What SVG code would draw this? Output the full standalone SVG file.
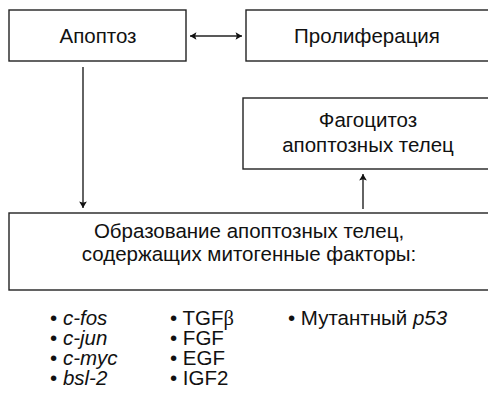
<svg xmlns="http://www.w3.org/2000/svg" width="488" height="401" viewBox="0 0 488 401">
<style>
.box{fill:#fff;stroke:#222;stroke-width:1.4}
.t{font-family:"Liberation Sans",Arial,sans-serif;font-size:20.5px;fill:#111}
.c{text-anchor:middle}
.ln{stroke:#222;stroke-width:1.4;fill:none}
</style>
<defs>
<marker id="ah2" viewBox="0 0 10 14" refX="10" refY="7" markerWidth="14" markerHeight="9" markerUnits="userSpaceOnUse" orient="auto-start-reverse">
<path d="M0,1 L10,7 L0,13 L2,7 Z" fill="#111"/>
</marker>
</defs>
<g id="apoptoz">
<rect class="box" x="9" y="10" width="177" height="51"/>
<text class="t c" x="98" y="43">Апоптоз</text>
</g>
<g id="proliferaciya">
<rect class="box" x="246" y="10" width="250" height="51"/>
<text class="t c" x="367" y="43">Пролиферация</text>
</g>
<g id="fagocitoz">
<rect class="box" x="243" y="98" width="253" height="71"/>
<text class="t c" x="368" y="127">Фагоцитоз</text>
<text class="t c" x="368" y="152">апоптозных телец</text>
</g>
<g id="obrazovanie">
<rect class="box" x="9" y="213" width="487" height="77"/>
<text class="t c" x="249" y="238">Образование апоптозных телец,</text>
<text class="t c" x="249" y="261">содержащих митогенные факторы:</text>
</g>
<g id="connectors">
<line class="ln" x1="190" y1="36" x2="242" y2="36" marker-start="url(#ah2)" marker-end="url(#ah2)"/>
<line class="ln" x1="83" y1="67" x2="83" y2="208" marker-end="url(#ah2)"/>
<line class="ln" x1="363" y1="209" x2="363" y2="174" marker-end="url(#ah2)"/>
</g>
<g id="list">
<text class="t" x="50" y="325">• <tspan font-style="italic">c-fos</tspan></text>
<text class="t" x="50" y="345">• <tspan font-style="italic">c-jun</tspan></text>
<text class="t" x="50" y="365">• <tspan font-style="italic">c-myc</tspan></text>
<text class="t" x="50" y="385">• <tspan font-style="italic">bsl-2</tspan></text>
<text class="t" x="170" y="325">• TGF<tspan font-family="'Liberation Serif',serif">β</tspan></text>
<text class="t" x="170" y="345">• FGF</text>
<text class="t" x="170" y="365">• EGF</text>
<text class="t" x="170" y="385">• IGF2</text>
<text class="t" x="288" y="325">• Мутантный <tspan font-style="italic">p53</tspan></text>
</g>
</svg>
